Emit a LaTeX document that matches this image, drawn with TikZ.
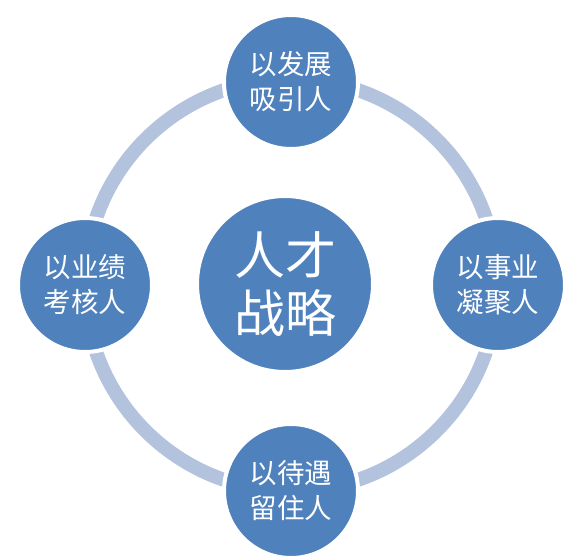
\documentclass[tikz,border=0pt]{standalone}
\usepackage{fontspec}
\setmainfont{Noto Sans CJK SC}
\definecolor{nodeblue}{HTML}{4F81BD}
\definecolor{ringblue}{HTML}{B3C3DE}
\begin{document}
\begin{tikzpicture}[x=1pt,y=-1pt,
  outer/.style={circle,fill=nodeblue,draw=white,line width=4pt,minimum size=134pt,inner sep=0pt,
    text=white,font=\fontsize{27.5}{35}\selectfont,align=center},
  core/.style={circle,fill=nodeblue,draw=white,line width=4pt,minimum size=176pt,inner sep=0pt,
    text=white,font=\fontsize{51}{58}\selectfont,align=center}]
\useasboundingbox (0,0) rectangle (566,559);
\coordinate (o) at (291,285);
\draw[ringblue,line width=14pt] (o) circle[radius=206];
\node[core] (c) at (285,284) {人才\\战略};
\node[outer] (t) at (291,82) {以发展\\吸引人};
\node[outer] (l) at (85,285) {以业绩\\考核人};
\node[outer] (r) at (498,285) {以事业\\凝聚人};
\node[outer] (b) at (291,491) {以待遇\\留住人};
\end{tikzpicture}
\end{document}
